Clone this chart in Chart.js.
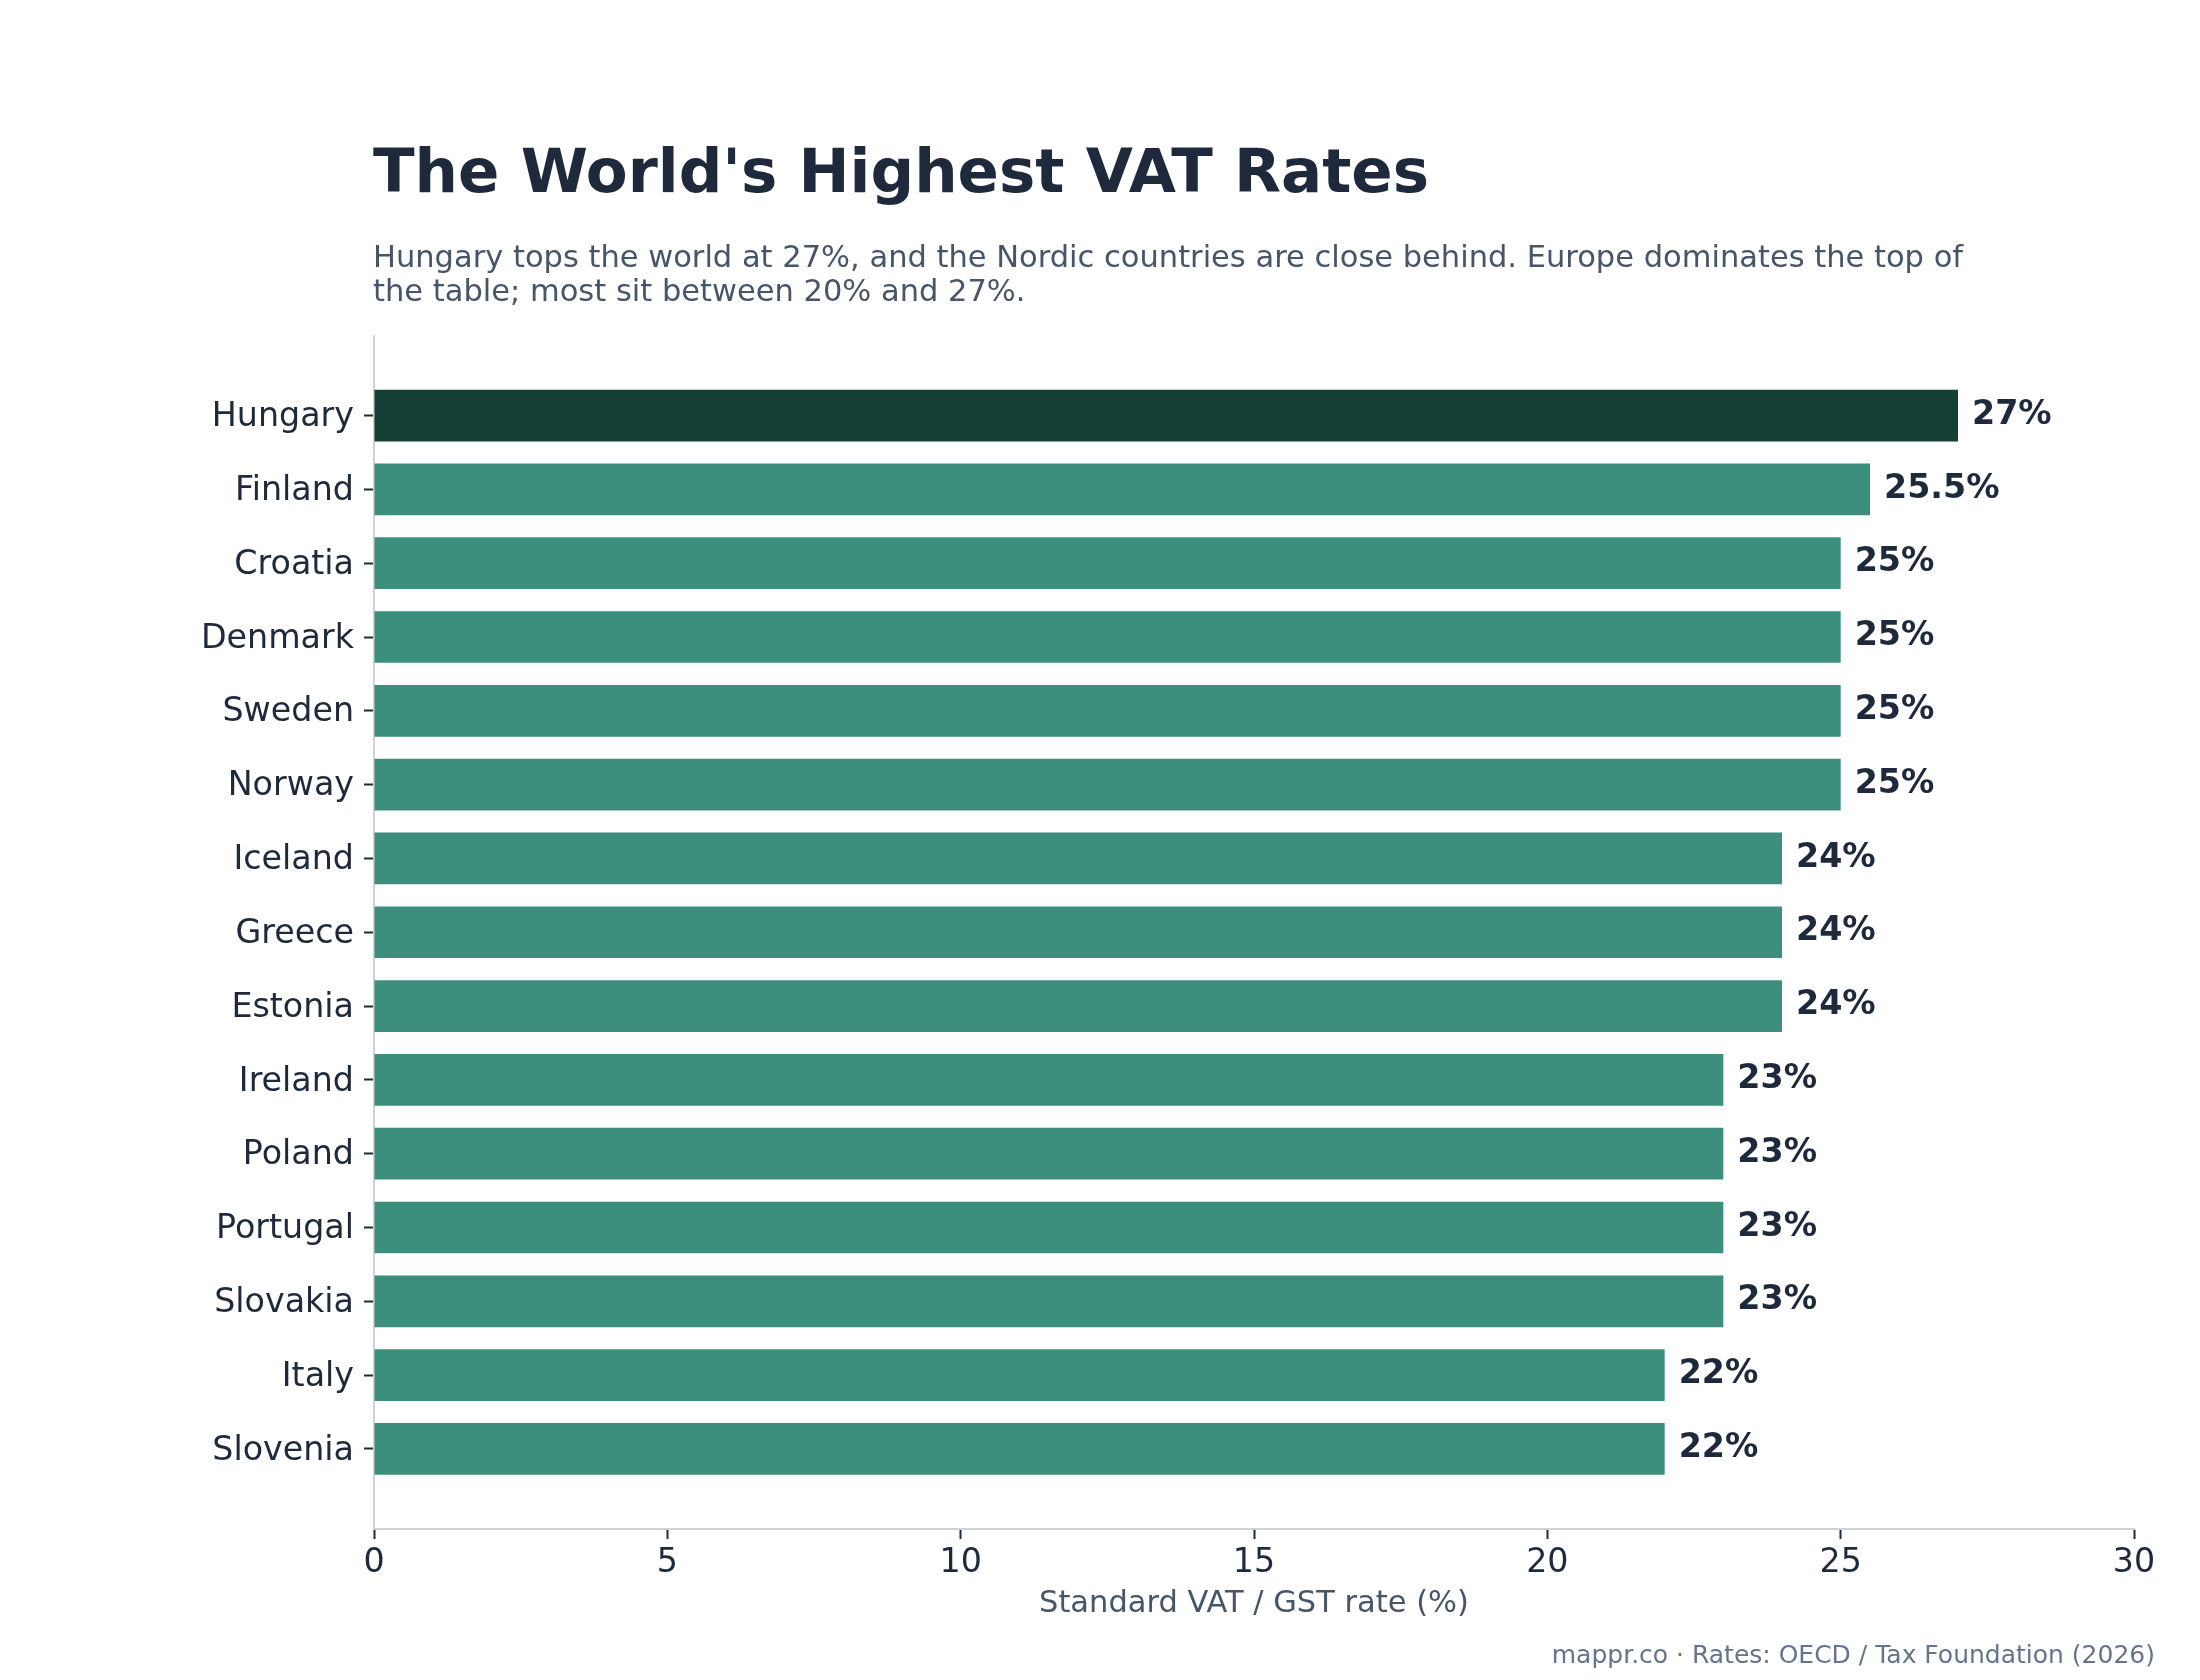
<!DOCTYPE html>
<html>
<head>
<meta charset="utf-8">
<script src="https://cdn.jsdelivr.net/npm/chart.js@4.4.1/dist/chart.umd.min.js"></script>
<style>
  html, body { margin: 0; padding: 0; background: #ffffff; }
  #wrap { width: 2200px; height: 1680px; }
</style>
</head>
<body>
<div id="wrap"><canvas id="c" width="2200" height="1680"></canvas></div>
<script>
const titleText = "The World's Highest VAT Rates";
const subtitleLines = [
  "Hungary tops the world at 27%, and the Nordic countries are close behind. Europe dominates the top of",
  "the table; most sit between 20% and 27%."
];
const footerText = "mappr.co \u00b7 Rates: OECD / Tax Foundation (2026)";
const xAxisTitle = "Standard VAT / GST rate (%)";

const countries = ["Hungary", "Finland", "Croatia", "Denmark", "Sweden", "Norway", "Iceland",
  "Greece", "Estonia", "Ireland", "Poland", "Portugal", "Slovakia", "Italy", "Slovenia"];
const rates = [27, 25.5, 25, 25, 25, 25, 24, 24, 24, 23, 23, 23, 23, 22, 22];
const highlightCountry = "Hungary";
const xTickMin = 0, xTickMax = 30, xTickStep = 5;

const FONT = "'DejaVu Sans', 'Noto Sans', sans-serif";
const DARK = "#1e293b";
const SLATE = "#475569";
const GRAY = "#64748b";
const AXIS = "#cfd2d9";
const BAR_HI = "#153e35";
const BAR = "#3d8f7d";

const points = countries.map((c, i) => ({ x: rates[i], y: i }));

const textPlugin = {
  id: 'texts',
  afterDatasetsDraw(chart) {
    const ctx = chart.ctx;
    const meta = chart.getDatasetMeta(0);
    ctx.save();
    ctx.fillStyle = DARK;
    ctx.font = "bold 33.3px " + FONT;
    ctx.textAlign = 'left';
    ctx.textBaseline = 'middle';
    meta.data.forEach((bar, i) => {
      ctx.fillText(rates[i] + "%", bar.x + 14, bar.y - 0.5);
    });
    ctx.restore();
  },
  afterDraw(chart) {
    const ctx = chart.ctx;
    const left = chart.chartArea.left;
    ctx.save();
    ctx.textAlign = 'left';
    ctx.textBaseline = 'alphabetic';
    ctx.fillStyle = DARK;
    ctx.font = "bold 61px " + FONT;
    ctx.fillText(titleText, left - 1, 192);
    ctx.fillStyle = SLATE;
    ctx.font = "30.5px " + FONT;
    subtitleLines.forEach((line, i) => ctx.fillText(line, left - 1, 267 + i * 33.6));
    ctx.fillStyle = GRAY;
    ctx.font = "25px " + FONT;
    ctx.textAlign = 'right';
    ctx.fillText(footerText, 2155, 1663);
    ctx.restore();
  }
};

new Chart(document.getElementById('c'), {
  type: 'bar',
  data: {
    datasets: [{
      data: points,
      backgroundColor: (c) => countries[c.dataIndex] === highlightCountry ? BAR_HI : BAR,
      borderWidth: 0,
      barPercentage: 0.7,
      categoryPercentage: 1.0
    }]
  },
  options: {
    indexAxis: 'y',
    responsive: false,
    devicePixelRatio: 1,
    animation: false,
    layout: { padding: { top: 335.5, right: 66, bottom: 57.7, left: 0 } },
    plugins: {
      legend: { display: false },
      tooltip: { enabled: false },
      title: { display: false }
    },
    scales: {
      x: {
        type: 'linear',
        position: 'bottom',
        min: xTickMin,
        max: xTickMax,
        offset: false,
        ticks: {
          stepSize: xTickStep,
          color: DARK,
          font: { family: FONT, size: 33.3, lineHeight: 1.2 },
          padding: 4,
          maxRotation: 0
        },
        grid: {
          display: true,
          offset: false,
          drawOnChartArea: false,
          drawTicks: true,
          tickLength: 10,
          tickColor: DARK,
          tickWidth: 2
        },
        border: { display: true, color: AXIS, width: 2 },
        title: {
          display: true,
          text: xAxisTitle,
          color: SLATE,
          font: { family: FONT, size: 30.5, lineHeight: 1.2 },
          padding: 0
        },
        afterFit: (scale) => { scale.height = 93.3; }
      },
      y: {
        type: 'linear',
        reverse: true,
        offset: false,
        min: -1.085,
        max: 15.085,
        afterBuildTicks: (scale) => { scale.ticks = countries.map((c, i) => ({ value: i })); },
        ticks: {
          autoSkip: false,
          color: DARK,
          font: { family: FONT, size: 33.3, lineHeight: 1.2 },
          padding: 10,
          labelOffset: 2,
          callback: (v) => countries[v]
        },
        grid: {
          display: true,
          offset: false,
          drawOnChartArea: false,
          drawTicks: true,
          tickLength: 10,
          tickColor: DARK,
          tickWidth: 2
        },
        border: { display: true, color: AXIS, width: 2 },
        afterFit: (scale) => { scale.width = 374; }
      }
    }
  },
  plugins: [textPlugin]
});
</script>
</body>
</html>
